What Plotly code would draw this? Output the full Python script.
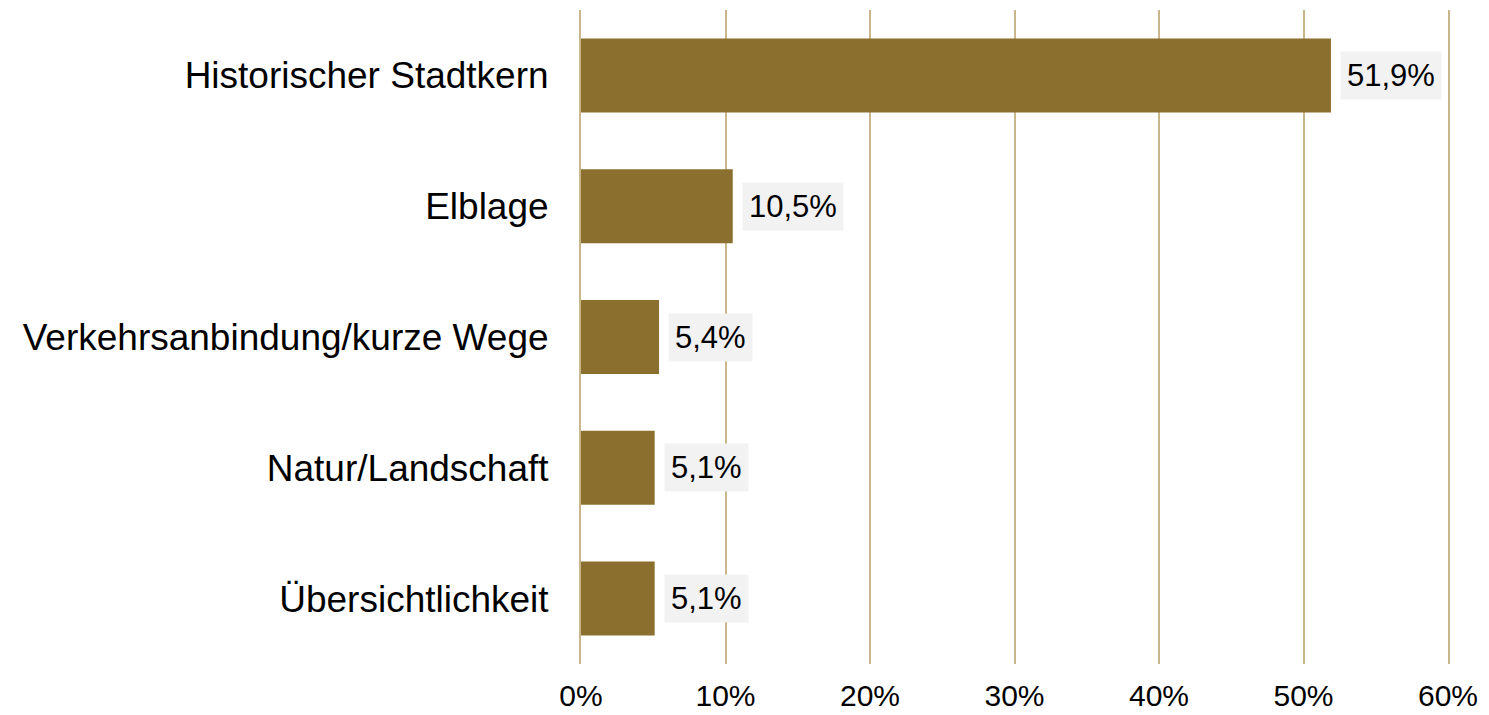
import plotly.graph_objects as go

categories = ["Historischer Stadtkern", "Elblage", "Verkehrsanbindung/kurze Wege",
              "Natur/Landschaft", "Übersichtlichkeit"]
values = [51.9, 10.5, 5.4, 5.1, 5.1]
labels = ["51,9%", "10,5%", "5,4%", "5,1%", "5,1%"]
tick_vals = [0, 10, 20, 30, 40, 50, 60]
tick_text = ["0%", "10%", "20%", "30%", "40%", "50%", "60%"]

BAR = "#8B6F2E"
GRID = "#C9B68A"
FONT = "Liberation Sans, Arial, sans-serif"

fig = go.Figure(go.Bar(
    x=values, y=categories, orientation="h",
    marker=dict(color=BAR, line=dict(width=0)),
    width=0.566, hoverinfo="skip",
))

for c, v, t in zip(categories, values, labels):
    fig.add_annotation(x=v, y=c, text=t, showarrow=False, xanchor="left",
                       yanchor="middle", xshift=9, bgcolor="#F2F2F2",
                       borderpad=6, font=dict(family=FONT, size=31, color="#000"))

fig.update_layout(
    width=1489, height=715,
    margin=dict(l=581, r=41, t=10, b=51, autoexpand=False),
    paper_bgcolor="white", plot_bgcolor="white",
    showlegend=False,
    font=dict(family=FONT, color="#000"),
)
fig.update_xaxes(range=[0, 60], tickvals=tick_vals, ticktext=tick_text,
                 showgrid=True, gridcolor=GRID, gridwidth=2,
                 zeroline=False, showline=False, ticks="",
                 ticklabelstandoff=11, automargin=False,
                 tickfont=dict(family=FONT, size=30, color="#000"))
fig.update_yaxes(categoryorder="array", categoryarray=categories[::-1],
                 autorange=True, showgrid=False, zeroline=False,
                 showline=True, mirror=True, linecolor=GRID, linewidth=2,
                 ticks="", ticklabelstandoff=23, automargin=False,
                 tickfont=dict(family=FONT, size=37, color="#000"))

fig.write_html("out.html", post_script="document.body.style.margin='0';",
               config={"displayModeBar": False})
